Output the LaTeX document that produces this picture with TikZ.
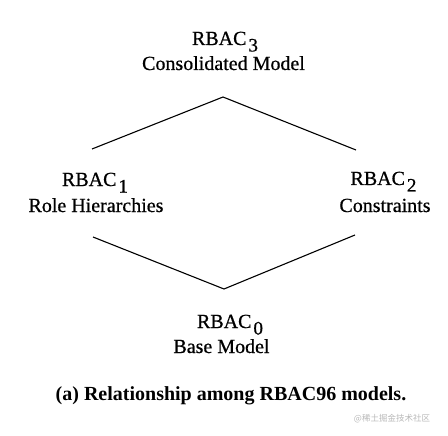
\documentclass[tikz,border=0pt]{standalone}
\usepackage{fontspec}
\setmainfont{Liberation Serif}[BoldFont={Liberation Serif},BoldFeatures={FakeBold=0.7}]
\newfontfamily\capfont{Liberation Serif}[BoldFont={Liberation Serif Bold}]
\newfontfamily\cjkfont{Noto Sans CJK SC}
\newcommand\rbsub[1]{\kern2pt\raisebox{-6.5pt}{\fontsize{19}{19}\selectfont #1}}
\begin{document}
\begin{tikzpicture}[x=1pt,y=-1pt,
  lbl/.style={anchor=base,inner sep=0pt,font=\fontsize{20}{22}\selectfont\bfseries},
  captxt/.style={anchor=base,inner sep=0pt,font=\capfont\fontsize{20}{22}\selectfont\bfseries},
  wm/.style={anchor=center,inner sep=0pt,text=black!28,font=\cjkfont\fontsize{8.5}{9}\selectfont},
  edge/.style={line width=1.1pt,line join=miter}]
\useasboundingbox (0,0) rectangle (448,436);
% labels
\node[lbl] (r3) at (225,45) {RBAC\rbsub{3}};
\node[lbl] (r3d) at (223.5,70) {Consolidated Model};
\node[lbl] (r1) at (95,186) {RBAC\rbsub{1}};
\node[lbl] (r1d) at (96,212) {Role Hierarchies};
\node[lbl] (r2) at (383.5,185) {RBAC\rbsub{2}};
\node[lbl] (r2d) at (385,212) {Constraints};
\node[lbl] (r0) at (230,328) {RBAC\rbsub{0}};
\node[lbl] (r0d) at (221.5,353) {Base Model};
\node[captxt] (caption) at (231,400) {(a) Relationship among RBAC96 models.};
\node[wm] (mark) at (392,419) {@稀土掘金技术社区};
% connector points
\coordinate (tl) at (92,149);
\coordinate (tt) at (223,97);
\coordinate (tr) at (356,150);
\coordinate (bl) at (93,237);
\coordinate (bb) at (224,289);
\coordinate (br) at (355,235);
\draw[edge] (tl) -- (tt) -- (tr);
\draw[edge] (bl) -- (bb) -- (br);
\end{tikzpicture}
\end{document}
